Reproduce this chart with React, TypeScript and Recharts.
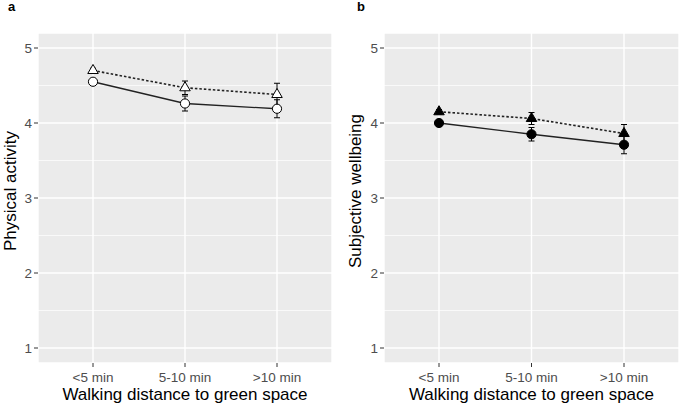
import { ComposedChart, Line, XAxis, YAxis, CartesianGrid, ErrorBar, ReferenceLine, Label } from 'recharts';

const categories = ['<5 min', '5-10 min', '>10 min'];
const yTicks = [1, 2, 3, 4, 5];
const yMinor = [1.5, 2.5, 3.5, 4.5];

// panel a: physical activity
const paCircle = [4.55, 4.26, 4.19];
const paCircleErr = [0.03, 0.1, 0.12];
const paTriangle = [4.7, 4.47, 4.38];
const paTriangleErr = [0.03, 0.09, 0.15];

// panel b: subjective wellbeing
const swCircle = [4.0, 3.85, 3.71];
const swCircleErr = [0.03, 0.09, 0.12];
const swTriangle = [4.15, 4.06, 3.86];
const swTriangleErr = [0.03, 0.08, 0.12];

const FONT = '"Liberation Sans", Arial, sans-serif';
const TICK_GREY = '#4D4D4D';

const buildRows = (circle: number[], circleErr: number[], tri: number[], triErr: number[]) =>
  categories.map((c, i) => ({
    cat: c,
    circle: circle[i],
    circleErr: circleErr[i],
    tri: tri[i],
    triErr: triErr[i],
  }));

const circleDot = (fill: string) => (props: any) => {
  const { cx, cy, index } = props;
  return <circle key={'c' + index} cx={cx} cy={cy} r={4.6} fill={fill} stroke="#000" strokeWidth={1} />;
};

const triangleDot = (fill: string) => (props: any) => {
  const { cx, cy, index } = props;
  const w = 10.5;
  const h = w * 0.866;
  const d = `M${cx},${cy - (2 * h) / 3} L${cx + w / 2},${cy + h / 3} L${cx - w / 2},${cy + h / 3} Z`;
  return <path key={'t' + index} d={d} fill={fill} stroke="#000" strokeWidth={1} />;
};

const XTick = ({ x, y, payload }: any) => (
  <text x={x} y={y + 13} textAnchor="middle" fontSize={13.5} fontFamily={FONT} fill={TICK_GREY}>
    {payload.value}
  </text>
);

const YTick = ({ x, y, payload }: any) => (
  <text x={x} y={y + 4.7} textAnchor="end" fontSize={13.5} fontFamily={FONT} fill={TICK_GREY}>
    {payload.value}
  </text>
);

const YTitle = ({ viewBox, text, cx }: any) => {
  const cy = viewBox.y + viewBox.height / 2 - 7;
  return (
    <text
      transform={`translate(${cx}, ${cy}) rotate(-90)`}
      textAnchor="middle"
      dominantBaseline="central"
      fontSize={17}
      fontFamily={FONT}
      fill="#000"
    >
      {text}
    </text>
  );
};

const XTitle = ({ viewBox }: any) => (
  <text
    x={viewBox.x + viewBox.width / 2}
    y={viewBox.y + 37}
    textAnchor="middle"
    fontSize={17}
    fontFamily={FONT}
    fill="#000"
  >
    Walking distance to green space
  </text>
);

interface PanelProps {
  rows: any[];
  letter: string;
  yTitle: string;
  axisWidth: number;
  rightMargin: number;
  titleX: number;
  filled: boolean;
}

const Panel = ({ rows, letter, yTitle, axisWidth, rightMargin, titleX, filled }: PanelProps) => {
  const markFill = filled ? '#000' : '#fff';
  return (
    <div style={{ position: 'relative', width: 340, height: 406 }}>
      <div
        style={{
          position: 'absolute',
          left: letter === 'a' ? 8 : 17,
          top: 0,
          fontFamily: FONT,
          fontWeight: 'bold',
          fontSize: 13,
          lineHeight: '14px',
        }}
      >
        {letter}
      </div>
      <ComposedChart width={340} height={406} data={rows} margin={{ top: 33, right: rightMargin, bottom: 0, left: 0 }}>
        <CartesianGrid fill="#EBEBEB" stroke="#fff" strokeWidth={1.4} />
        {yMinor.map((v) => (
          <ReferenceLine key={v} y={v} stroke="#fff" strokeWidth={0.7} />
        ))}
        <XAxis
          dataKey="cat"
          height={43}
          padding={{ left: 55, right: 55 }}
          axisLine={false}
          tickSize={4}
          tickMargin={2}
          tickLine={{ stroke: '#333' }}
          tick={<XTick />}
          interval={0}
        >
          <Label content={<XTitle />} />
        </XAxis>
        <YAxis
          width={axisWidth}
          domain={[0.8, 5.2]}
          ticks={yTicks}
          type="number"
          axisLine={false}
          tickSize={4}
          tickMargin={2}
          tickLine={{ stroke: '#333' }}
          tick={<YTick />}
        >
          <Label content={<YTitle text={yTitle} cx={titleX} />} />
        </YAxis>
        <Line
          dataKey="tri"
          stroke="#222"
          strokeWidth={1.6}
          strokeDasharray="2.5 2"
          dot={triangleDot(markFill)}
          activeDot={false}
          isAnimationActive={false}
        >
          <ErrorBar dataKey="triErr" width={3} stroke="#000" strokeWidth={1} />
        </Line>
        <Line
          dataKey="circle"
          stroke="#222"
          strokeWidth={1.3}
          dot={circleDot(markFill)}
          activeDot={false}
          isAnimationActive={false}
        >
          <ErrorBar dataKey="circleErr" width={3} stroke="#000" strokeWidth={1} />
        </Line>
      </ComposedChart>
    </div>
  );
};

export default function App() {
  const rowsA = buildRows(paCircle, paCircleErr, paTriangle, paTriangleErr);
  const rowsB = buildRows(swCircle, swCircleErr, swTriangle, swTriangleErr);
  return (
    <div style={{ position: 'absolute', left: 0, top: 0, width: 680, height: 406, background: '#fff', display: 'flex' }}>
      <Panel rows={rowsA} letter="a" yTitle="Physical activity" axisWidth={38} rightMargin={8} titleX={10} filled={false} />
      <Panel rows={rowsB} letter="b" yTitle="Subjective wellbeing" axisWidth={44} rightMargin={1} titleX={15} filled />
    </div>
  );
}
